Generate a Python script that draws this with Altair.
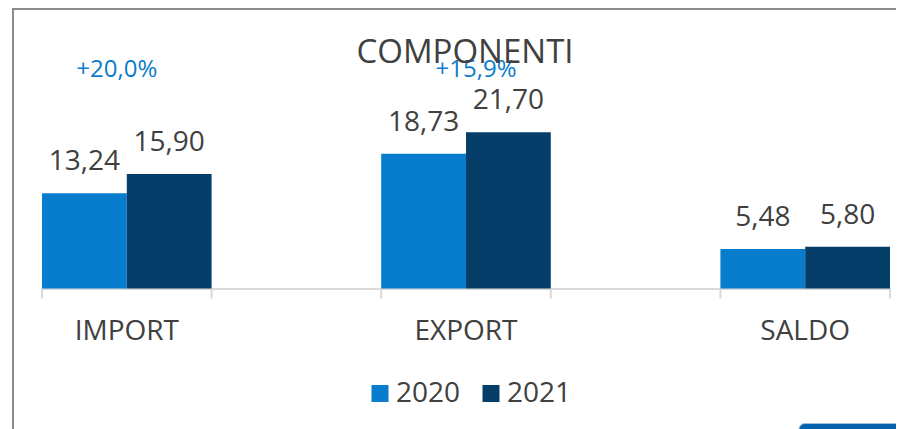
import altair as alt
import pandas as pd

categories = ["IMPORT", "EXPORT", "SALDO"]
years = ["2020", "2021"]
values_2020 = [13.24, 18.73, 5.48]
values_2021 = [15.90, 21.70, 5.80]
growth_labels = ["+20,0%", "+15,9%"]
title_text = "COMPONENTI"

# band slots: categories separated by empty gap slots
slots = ["IMPORT", "gap1", "EXPORT", "gap2", "SALDO"]

rows = []
for c, a, b in zip(categories, values_2020, values_2021):
    rows.append({"cat": c, "year": "2020", "value": a})
    rows.append({"cat": c, "year": "2021", "value": b})
df = pd.DataFrame(rows)
df["label"] = df["value"].map(lambda v: f"{v:.2f}".replace(".", ","))

ticks_df = pd.DataFrame({"cat": slots})
one = pd.DataFrame({"k": [0]})

FONT = "Open Sans"
TXT = "#404040"
C2020 = "#087CCD"
C2021 = "#053E68"
W, H = 848, 180

xscale = alt.Scale(domain=slots, paddingInner=0, paddingOuter=0)
yscale = alt.Scale(domain=[0, 25])

label_expr = "indexof(['IMPORT','EXPORT','SALDO'], datum.value) >= 0 ? datum.value : ''"

bars = alt.Chart(df).mark_bar(stroke=None).encode(
    x=alt.X("cat:N", scale=xscale, sort=slots,
            axis=alt.Axis(title=None, ticks=False, labelExpr=label_expr,
                          labelFont=FONT, labelFontSize=28, labelColor=TXT,
                          labelPadding=43, labelBaseline="middle", labelAlign="center",
                          labelAngle=0, bandPosition=0.5,
                          domainColor="#D9D9D9", domainWidth=2)),
    xOffset=alt.XOffset("year:N", scale=alt.Scale(paddingInner=0, paddingOuter=0)),
    y=alt.Y("value:Q", scale=yscale, axis=None),
    color=alt.Color("year:N",
                    scale=alt.Scale(domain=years, range=[C2020, C2021]),
                    legend=alt.Legend(title=None, orient="none", direction="horizontal",
                                      legendX=324, legendY=271, padding=0,
                                      symbolType="square", symbolSize=289,
                                      symbolStrokeWidth=0, labelFont=FONT,
                                      labelFontSize=28, labelColor=TXT,
                                      labelOffset=2, columnPadding=16)),
)

values_text = alt.Chart(df).mark_text(font=FONT, fontSize=28, color=TXT,
                                      baseline="middle", dy=-31).encode(
    x=alt.X("cat:N", scale=xscale, sort=slots),
    xOffset=alt.XOffset("year:N", scale=alt.Scale(paddingInner=0, paddingOuter=0)),
    y=alt.Y("value:Q", scale=yscale),
    text="label:N",
)

tick_rules = alt.Chart(ticks_df).mark_rule(color="#D9D9D9", strokeWidth=2).encode(
    x=alt.X("cat:N", scale=xscale, sort=slots, bandPosition=0),
    y=alt.value(H), y2=alt.value(H + 10),
)
end_tick = alt.Chart(pd.DataFrame({"cat": [slots[-1]]})).mark_rule(
    color="#D9D9D9", strokeWidth=2).encode(
    x=alt.X("cat:N", scale=xscale, sort=slots, bandPosition=1),
    y=alt.value(H), y2=alt.value(H + 10),
)

g1 = alt.Chart(pd.DataFrame({"cat": [categories[0]], "t": [growth_labels[0]]})).mark_text(
    font=FONT, fontSize=24, color="#0A7CCB", baseline="middle", dx=-10).encode(
    x=alt.X("cat:N", scale=xscale, sort=slots),
    y=alt.value(-38.5), text="t:N")
g2 = alt.Chart(pd.DataFrame({"cat": [categories[1]], "t": [growth_labels[1]]})).mark_text(
    font=FONT, fontSize=24, color="#0A7CCB", baseline="middle", dx=10).encode(
    x=alt.X("cat:N", scale=xscale, sort=slots),
    y=alt.value(-38.5), text="t:N")

title = alt.Chart(pd.DataFrame({"t": [title_text]})).mark_text(
    font=FONT, fontSize=33, color=TXT, baseline="middle").encode(
    x=alt.value(W / 2 - 1), y=alt.value(-55.5), text="t:N")

frame = alt.Chart(one).mark_rect(fillOpacity=0, stroke="#8C8C8C", strokeWidth=2).encode(
    x=alt.value(-29), x2=alt.value(900), y=alt.value(-99.5), y2=alt.value(400))

corner = alt.Chart(one).mark_rect(color="#0563AE", cornerRadiusTopLeft=6,
                                  stroke="#9DBEDD", strokeWidth=1).encode(
    x=alt.value(757), x2=alt.value(880), y=alt.value(315), y2=alt.value(340))

chart = alt.layer(frame, corner, tick_rules, end_tick, bars, values_text, g1, g2, title).properties(
    width=W, height=H,
    padding={"left": 34, "top": 100.5, "right": 6, "bottom": 140.5},
    autosize=alt.AutoSizeParams(type="none"),
    background="white",
).configure_view(stroke=None)

chart.save("out.html", embed_options={"renderer": "svg", "actions": False})
